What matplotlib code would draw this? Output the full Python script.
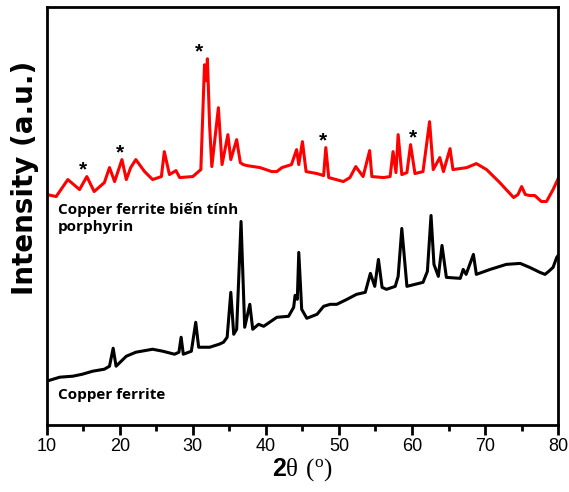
import numpy as np
import matplotlib
matplotlib.use('Agg')
import matplotlib.pyplot as plt

# XRD patterns (2theta in degrees, intensity in a.u.)
ferrite_x = [10.0, 11.8, 13.6, 14.9, 16.3, 17.9, 18.6, 19.1, 19.5, 20.9, 22.2, 24.5,
             25.9, 27.5, 28.1, 28.4, 28.7, 29.8, 30.4, 30.8, 32.3, 33.6, 34.2, 34.7,
             35.2, 35.6, 36.0, 36.6, 37.1, 37.8, 38.2, 39.0, 39.7, 41.5, 43.1, 43.8,
             44.0, 44.3, 44.5, 44.9, 45.6, 47.0, 47.9, 48.8, 49.7, 51.1, 52.4, 53.6,
             54.3, 54.9, 55.4, 55.9, 56.5, 57.7, 58.1, 58.6, 59.3, 61.5, 62.1, 62.6,
             63.0, 63.6, 64.1, 64.7, 66.6, 67.0, 67.4, 68.4, 68.8, 70.7, 72.9, 74.8,
             76.1, 77.5, 78.2, 78.7, 79.3, 79.8, 80.0]
ferrite_y = [44, 48, 49, 51, 54, 56, 59, 77, 59, 69, 73, 76,
             74, 71, 73, 88, 71, 74, 103, 78, 78, 81, 83, 88,
             133, 91, 96, 204, 98, 121, 96, 101, 99, 108, 109, 118,
             130, 126, 173, 116, 107, 111, 119, 121, 121, 126, 131, 133,
             152, 139, 166, 138, 136, 139, 149, 197, 139, 143, 154, 210,
             161, 149, 180, 148, 147, 156, 151, 171, 151, 156, 161, 162,
             158, 153, 151, 154, 158, 168, 170]

por_x = [10.0, 11.3, 12.9, 14.5, 15.5, 16.5, 17.9, 18.6, 19.3, 20.3, 20.9, 21.5,
         22.2, 23.4, 24.5, 25.7, 26.1, 26.8, 27.7, 28.2, 30.0, 31.1, 31.6, 31.8,
         32.0, 32.3, 32.6, 33.5, 34.0, 34.8, 35.2, 36.0, 36.5, 36.9, 37.4, 39.2,
         40.8, 41.5, 42.2, 43.5, 44.2, 44.5, 45.0, 45.5, 47.0, 47.9, 48.2, 48.6,
         50.6, 51.5, 52.3, 53.3, 54.2, 54.5, 56.1, 57.0, 57.4, 57.8, 58.1, 58.6,
         59.3, 59.8, 60.4, 61.5, 62.4, 62.9, 63.8, 64.3, 65.2, 65.6, 67.5, 68.8,
         70.2, 72.0, 73.9, 74.5, 75.0, 75.5, 76.1, 76.8, 77.7, 78.4, 79.3, 80.0]
por_y = [231, 229, 246, 236, 249, 234, 243, 258, 244, 266, 246, 258,
         266, 254, 246, 249, 274, 251, 255, 248, 249, 256, 361, 345,
         367, 300, 259, 318, 261, 291, 266, 286, 263, 261, 260, 258,
         254, 254, 258, 261, 276, 261, 284, 254, 252, 250, 278, 248,
         244, 248, 259, 249, 275, 249, 248, 249, 274, 253, 291, 251,
         253, 281, 252, 254, 304, 256, 268, 254, 277, 256, 258, 262,
         256, 243, 228, 231, 239, 231, 230, 230, 224, 224, 236, 247]

# asterisks mark the porphyrin reflections
star_x = [15.0, 20.0, 30.9, 47.8, 60.1]
star_peak = [15.5, 20.3, 32.0, 48.2, 59.8]

plt.rcParams['mathtext.fontset'] = 'custom'
plt.rcParams['mathtext.rm'] = 'Liberation Serif'
plt.rcParams['mathtext.bf'] = 'Liberation Sans:bold'

fig = plt.figure(figsize=(5.69, 4.92), dpi=100)
ax = fig.add_axes([0.082, 0.136, 0.899, 0.850])

ax.plot(ferrite_x, ferrite_y, color='black', lw=2.2)
ax.plot(por_x, por_y, color='red', lw=2.2)

star_y = np.interp(star_peak, por_x, por_y)
for sx, sy in zip(star_x, star_y):
    ax.text(sx, sy - 3, '*', fontsize=15, fontweight='bold',
            ha='center', va='bottom', family='Liberation Sans')

ax.text(11.5, 224, 'Copper ferrite biến tính\nporphyrin', fontsize=11,
        fontweight='bold', family='Open Sans', va='top', ha='left', linespacing=1.3)
ax.text(11.5, 37, 'Copper ferrite', fontsize=11, fontweight='bold',
        family='Open Sans', va='top', ha='left')

ax.set_xlim(10, 80)
ax.set_ylim(0, 419)
ax.set_xticks(np.arange(10, 81, 10))
ax.set_xticks(np.arange(15, 80, 10), minor=True)
ax.set_yticks([])
ax.tick_params(axis='x', which='major', direction='out', length=7, width=2,
               labelsize=13, pad=2)
ax.tick_params(axis='x', which='minor', direction='out', length=4, width=2)
for lab in ax.get_xticklabels():
    lab.set_family('Liberation Sans')
for s in ax.spines.values():
    s.set_linewidth(2)

ax.set_ylabel('Intensity (a.u.)', fontsize=20, fontweight='bold',
              family='DejaVu Sans')
ax.yaxis.set_label_coords(-0.014, 0.59)
ax.set_xlabel(r'$\mathbf{2}\mathrm{θ\ (^{o})}$', fontsize=18, labelpad=1)

fig.savefig('out.png', dpi=100)
